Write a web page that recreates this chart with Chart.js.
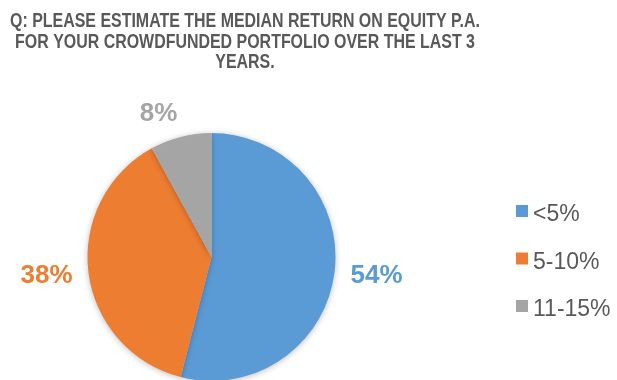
<!DOCTYPE html>
<html>
<head>
<meta charset="utf-8">
<script src="https://cdn.jsdelivr.net/npm/chart.js@4"></script>
<style>
  html, body { margin: 0; padding: 0; background: #fff; overflow: hidden; }
</style>
</head>
<body>
<canvas id="pieChart" width="617" height="380"></canvas>
<script>
// chart data
const categories = ['<5%', '5-10%', '11-15%'];
const shares = [54, 38, 8];
const titleLines = [
    'Q: PLEASE ESTIMATE THE MEDIAN RETURN ON EQUITY P.A.',
    'FOR YOUR CROWDFUNDED PORTFOLIO OVER THE LAST 3',
    'YEARS.'
];

const colors = ['#5B9BD5', '#ED7D31', '#A5A5A5'];
const FONT = '"Liberation Sans", Arial, sans-serif';

// Title drawn by hand so it can sit left of the canvas centre like the original
const titlePlugin = {
    id: 'titleText',
    afterDraw(chart) {
        const ctx = chart.ctx;
        ctx.save();
        ctx.font = 'bold 20px ' + FONT;
        ctx.fillStyle = '#595959';
        ctx.textAlign = 'center';
        ctx.textBaseline = 'alphabetic';
        const sx = 470 / ctx.measureText(titleLines[0]).width;
        titleLines.forEach((line, i) => {
            ctx.save();
            ctx.translate(245, 27 + i * 20.5);
            ctx.scale(sx, 1);
            ctx.fillText(line, 0, 0);
            ctx.restore();
        });
        ctx.restore();
    }
};

// Percent labels outside the slices
const labelPlugin = {
    id: 'outsideLabels',
    afterDatasetsDraw(chart) {
        const ctx = chart.ctx;
        const meta = chart.getDatasetMeta(0);
        const nudges = [[165, 19], [-165, 19], [-53, -143]];
        ctx.save();
        ctx.font = 'bold 26px ' + FONT;
        ctx.textAlign = 'center';
        ctx.textBaseline = 'middle';
        meta.data.forEach((arc, i) => {
            ctx.fillStyle = colors[i];
            ctx.fillText(shares[i] + '%', arc.x + nudges[i][0], arc.y + nudges[i][1]);
        });
        ctx.restore();
    }
};

// Legend on the right
const legendPlugin = {
    id: 'sideLegend',
    afterDraw(chart) {
        const ctx = chart.ctx;
        ctx.save();
        ctx.font = '23px ' + FONT;
        ctx.textAlign = 'left';
        ctx.textBaseline = 'alphabetic';
        categories.forEach((cat, i) => {
            const base = 221 + i * 47.5;
            ctx.fillStyle = colors[i];
            ctx.fillRect(516, base - 16, 12, 12);
            ctx.fillStyle = '#595959';
            ctx.fillText(cat, 533, base);
        });
        ctx.restore();
    }
};

// soft shadow under the pie
const shadowPlugin = {
    id: 'pieShadow',
    beforeDatasetsDraw(chart) {
        const ctx = chart.ctx;
        ctx.save();
        ctx.shadowColor = 'rgba(0,0,0,0.25)';
        ctx.shadowBlur = 6;
        ctx.shadowOffsetY = 1;
    },
    afterDatasetsDraw(chart) {
        chart.ctx.restore();
    }
};

document.addEventListener('DOMContentLoaded', () => {
    const ctx = document.querySelector('#pieChart').getContext('2d');

    new Chart(ctx, {
        type: 'pie',
        data: {
            labels: categories,
            datasets: [{
                data: shares,
                backgroundColor: colors,
                borderWidth: 0,
                radius: 124
            }]
        },
        options: {
            responsive: false,
            animation: false,
            layout: {
                padding: { left: 87, right: 281, top: 134, bottom: 0 }
            },
            plugins: {
                legend: { display: false },
                tooltip: { enabled: false },
                title: { display: false }
            }
        },
        plugins: [shadowPlugin, labelPlugin, titlePlugin, legendPlugin]
    });
});
</script>
</body>
</html>
